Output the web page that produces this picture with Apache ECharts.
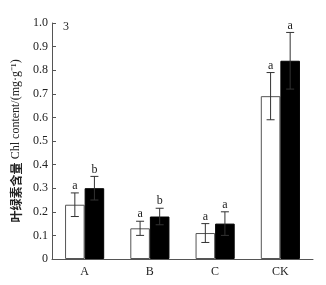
<!DOCTYPE html>
<html>
<head>
<meta charset="utf-8">
<script src="https://cdn.jsdelivr.net/npm/echarts@6/dist/echarts.min.js"></script>
<style>
  html, body { margin: 0; padding: 0; background: #fff; }
  #chart { width: 326px; height: 285px; }
</style>
</head>
<body>
<div id="chart"></div>
<script>
// treatments on the x axis
const categories = ["A", "B", "C", "CK"];
// white bars (first treatment) and black bars (second treatment)
const whiteValues = [0.23, 0.13, 0.11, 0.69];
const whiteErrors = [0.05, 0.03, 0.04, 0.10];
const whiteLetters = ["a", "a", "a", "a"];
const blackValues = [0.30, 0.18, 0.15, 0.84];
const blackErrors = [0.05, 0.035, 0.05, 0.12];
const blackLetters = ["b", "b", "a", "a"];
const yTicks = [0, 0.1, 0.2, 0.3, 0.4, 0.5, 0.6, 0.7, 0.8, 0.9, 1.0];

const serif = "Liberation Serif, Times New Roman, serif";
const axisColor = "#555";
const barShare = 0.3; // each bar takes 30% of a category

const chart = echarts.init(document.getElementById("chart"));

// error bar + significance letter, drawn on the library's own scales
function errorSeries(values, errors, letters, side) {
  return {
    type: "custom",
    z: 5,
    data: values.map((v, i) => [i, v, errors[i]]),
    renderItem: (params, api) => {
      const i = api.value(0);
      const v = api.value(1);
      const e = api.value(2);
      const band = api.size([1, 0])[0];
      const dx = side * band * barShare / 2;
      const top = api.coord([i, v + e]);
      const bottom = api.coord([i, v - e]);
      const x = top[0] + dx;
      const cap = 4;
      const style = { stroke: "#333", lineWidth: 1 };
      return {
        type: "group",
        children: [
          { type: "line", shape: { x1: x, y1: top[1], x2: x, y2: bottom[1] }, style },
          { type: "line", shape: { x1: x - cap, y1: top[1], x2: x + cap, y2: top[1] }, style },
          { type: "line", shape: { x1: x - cap, y1: bottom[1], x2: x + cap, y2: bottom[1] }, style },
          {
            type: "text",
            style: {
              text: letters[params.dataIndex],
              x: x,
              y: top[1] - 1,
              align: "center",
              verticalAlign: "bottom",
              font: "12px " + serif,
              fill: "#222"
            }
          }
        ]
      };
    }
  };
}

chart.setOption({
  animation: false,
  grid: { left: 52, right: 13, top: 23, bottom: 26 },
  graphic: [
    { type: "text", left: 63, top: 21, style: { text: "3", font: "12px " + serif, fill: "#222" } }
  ],
  xAxis: {
    type: "category",
    data: categories,
    axisLine: { lineStyle: { color: axisColor } },
    axisTick: { inside: true, length: 4, lineStyle: { color: axisColor } },
    axisLabel: { color: "#222", fontFamily: serif, fontSize: 12, margin: 7 }
  },
  yAxis: {
    type: "value",
    min: 0,
    max: 1,
    interval: 0.1,
    name: "{cn|叶绿素含量} {en|Chl content/(mg·g⁻¹)}",
    nameLocation: "middle",
    nameGap: 28,
    nameTextStyle: {
      rich: {
        cn: { fontFamily: "Noto Sans CJK SC", fontSize: 12, fontWeight: "bold", color: "#222" },
        en: { fontFamily: serif, fontSize: 12, color: "#222" }
      }
    },
    splitLine: { show: false },
    axisLine: { show: true, lineStyle: { color: axisColor } },
    axisTick: { show: true, inside: true, length: 4, lineStyle: { color: axisColor } },
    axisLabel: {
      color: "#222",
      fontFamily: serif,
      fontSize: 12,
      margin: 4,
      formatter: (v) => {
        const t = yTicks.find((k) => Math.abs(k - v) < 1e-6);
        if (t === undefined) return "";
        return t === 0 ? "0" : t.toFixed(1);
      }
    }
  },
  series: [
    {
      type: "bar",
      data: whiteValues,
      barWidth: barShare * 100 + "%",
      barGap: "0%",
      itemStyle: { color: "#fff", borderColor: axisColor, borderWidth: 1 }
    },
    {
      type: "bar",
      data: blackValues,
      barWidth: barShare * 100 + "%",
      barGap: "0%",
      itemStyle: { color: "#000", borderColor: "#000", borderWidth: 1 }
    },
    errorSeries(whiteValues, whiteErrors, whiteLetters, -1),
    errorSeries(blackValues, blackErrors, blackLetters, 1)
  ]
});
</script>
</body>
</html>
